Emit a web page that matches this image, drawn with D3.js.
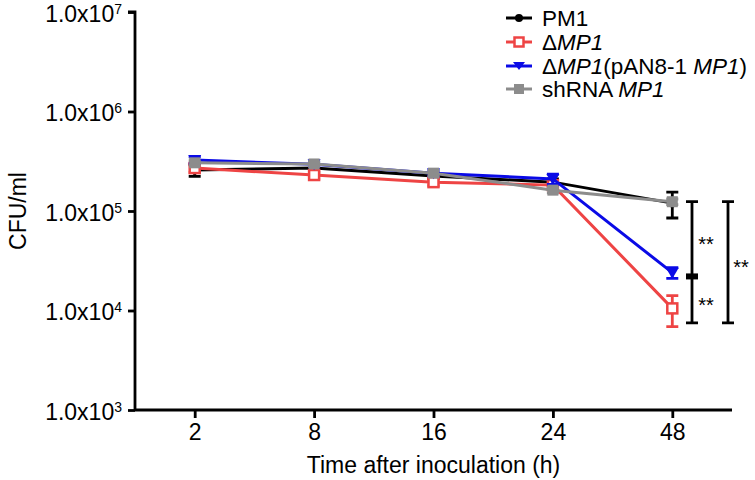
<!DOCTYPE html>
<html>
<head>
<meta charset="utf-8">
<script src="https://cdn.jsdelivr.net/npm/d3@7"></script>
<style>
body{margin:0;background:#fff;}
text{font-family:"Liberation Sans",Arial,Helvetica,sans-serif;}
</style>
</head>
<body>
<svg id="c" width="755" height="480"></svg>
<script>
const categories = ["2","8","16","24","48"];
const yTickExps = [3,4,5,6,7];
const seriesNames = ["PM1","\u0394MP1","\u0394MP1(pAN8-1 MP1)","shRNA MP1"];
const pm1 =      [2.58e5, 2.70e5, 2.25e5, 1.95e5, 1.20e5];
const pm1Err =   [0.35e5, 0.25e5, 0.15e5, 0.15e5, 0.35e5];
const dmp1 =     [2.70e5, 2.30e5, 1.95e5, 1.82e5, 1.05e4];
const dmp1Err =  [0.25e5, 0.20e5, 0.15e5, 0.12e5, 0.36e4];
const comp =     [3.25e5, 2.95e5, 2.40e5, 2.10e5, 2.40e4];
const compErr =  [0.25e5, 0.15e5, 0.15e5, 0.25e5, 0.30e4];
const shrna =    [3.05e5, 2.97e5, 2.40e5, 1.62e5, 1.24e5];
const shrnaErr = [0.15e5, 0.15e5, 0.15e5, 0.10e5, 0.08e5];
// significance brackets: [top, middle, bottom]
const sig1 = [1.24e5, 2.2e4, 7.5e3];
const sig2 = [1.24e5, 7.5e3];

const svg = d3.select("#c");
const x0 = 135, x1 = 732, yTop = 12, yBot = 410;
const x = d3.scalePoint().domain(categories).range([x0, x1]).padding(0.5);
const y = d3.scaleLog().domain([1e3, 1e7]).range([yBot, yTop]);
const FS = 23;

const colors = ["#000000", "#ee4444", "#0a0ae6", "#8c8c8c"];
const data = [
  {name: seriesNames[0], v: pm1, e: pm1Err, c: colors[0], m: "circle"},
  {name: seriesNames[1], v: dmp1, e: dmp1Err, c: colors[1], m: "opensquare"},
  {name: seriesNames[2], v: comp, e: compErr, c: colors[2], m: "triangle"},
  {name: seriesNames[3], v: shrna, e: shrnaErr, c: colors[3], m: "square"}
];

// axes
const yAxis = d3.axisLeft(y).tickValues(yTickExps.map(e => Math.pow(10, e))).tickSize(7).tickFormat("");
const gy = svg.append("g").attr("transform", `translate(${x0},0)`).call(yAxis);
gy.select(".domain").attr("d", `M-7,${yTop}H0V${yBot}`).attr("stroke-width", 2.8).attr("stroke", "#000").attr("fill","none");
gy.selectAll(".tick line").attr("stroke-width", 2.8);
gy.selectAll(".tick").each(function(d) {
  const e = Math.round(Math.log10(d));
  const t = d3.select(this).append("text").attr("x", -13).attr("y", 9).attr("text-anchor", "end")
    .attr("font-size", FS).attr("fill", "#000");
  t.append("tspan").text("1.0x10");
  t.append("tspan").attr("font-size", 14).attr("dy", -8).text(e);
});

const xAxis = d3.axisBottom(x).tickSize(8).tickPadding(6);
const gx = svg.append("g").attr("transform", `translate(0,${yBot})`).call(xAxis);
gx.select(".domain").attr("d", `M${x0},0H${x1}`).attr("stroke-width", 2.8).attr("stroke", "#000");
gx.selectAll(".tick line").attr("stroke-width", 2.8);
gx.selectAll(".tick text").attr("font-size", FS).attr("fill", "#000").attr("font-family", '"Liberation Sans",Arial,sans-serif');

svg.append("text").attr("x", (x0 + x1) / 2).attr("y", 473).attr("text-anchor", "middle")
  .attr("font-size", FS).text("Time after inoculation (h)");
svg.append("text").attr("transform", `translate(26,${(yTop + yBot) / 2}) rotate(-90)`).attr("text-anchor", "middle")
  .attr("font-size", FS).text("CFU/ml");

// series
function marker(g, m, c, cx, cy) {
  if (m === "circle") g.append("circle").attr("cx", cx).attr("cy", cy).attr("r", 4.5).attr("fill", c);
  else if (m === "square") g.append("rect").attr("x", cx - 5.5).attr("y", cy - 5.5).attr("width", 11).attr("height", 11).attr("fill", c);
  else if (m === "opensquare") g.append("rect").attr("x", cx - 5).attr("y", cy - 5).attr("width", 10).attr("height", 10).attr("fill", "#fff").attr("stroke", c).attr("stroke-width", 2.5);
  else if (m === "triangle") g.append("path").attr("d", `M${cx - 6.5},${cy - 5}L${cx + 6.5},${cy - 5}L${cx},${cy + 6}Z`).attr("fill", c);
}
const line = d3.line().x((d, i) => x(categories[i])).y(d => y(d));
data.forEach(s => {
  const g = svg.append("g");
  g.append("path").attr("d", line(s.v)).attr("fill", "none").attr("stroke", s.c).attr("stroke-width", 3);
  s.v.forEach((v, i) => {
    const cx = x(categories[i]);
    const ya = y(v + s.e[i]), yb = y(v - s.e[i]);
    g.append("path").attr("d", `M${cx},${ya}V${yb}M${cx - 6},${ya}H${cx + 6}M${cx - 6},${yb}H${cx + 6}`)
      .attr("stroke", s.c).attr("stroke-width", 2.8).attr("fill", "none");
  });
  s.v.forEach((v, i) => marker(g, s.m, s.c, x(categories[i]), y(v)));
});

// significance brackets
const sx1 = 692, sx2 = 728;
svg.append("path").attr("d", `M${sx1},${y(sig1[0])}V${y(sig1[2])}M${sx1 - 6},${y(sig1[0])}H${sx1 + 6}M${sx1 - 6},${y(sig1[2])}H${sx1 + 6}`)
  .attr("stroke", "#000").attr("stroke-width", 2.8).attr("fill", "none");
svg.append("rect").attr("x", sx1 - 6).attr("y", y(sig1[1]) - 3).attr("width", 12).attr("height", 6).attr("fill", "#000");
svg.append("path").attr("d", `M${sx2},${y(sig2[0])}V${y(sig2[1])}M${sx2 - 6},${y(sig2[0])}H${sx2 + 6}M${sx2 - 6},${y(sig2[1])}H${sx2 + 6}`)
  .attr("stroke", "#000").attr("stroke-width", 2.8).attr("fill", "none");
const starY1 = (y(sig1[0]) + y(sig1[1])) / 2, starY2 = (y(sig1[1]) + y(sig1[2])) / 2, starY3 = (y(sig2[0]) + y(sig2[1])) / 2;
[[706, starY1], [706, starY2], [741, starY3]].forEach(p => {
  svg.append("text").attr("x", p[0]).attr("y", p[1] + 12).attr("text-anchor", "middle").attr("font-size", 20).text("**");
});

// legend
const legRows = [18, 42, 66, 89];
data.forEach((s, i) => {
  const g = svg.append("g");
  const ly = legRows[i];
  g.append("path").attr("d", `M506,${ly}H532`).attr("stroke", s.c).attr("stroke-width", 3);
  if (s.m === "circle") g.append("circle").attr("cx", 519).attr("cy", ly).attr("r", 4).attr("fill", s.c);
  else if (s.m === "square") g.append("rect").attr("x", 514).attr("y", ly - 5).attr("width", 10).attr("height", 10).attr("fill", s.c);
  else if (s.m === "opensquare") g.append("rect").attr("x", 514.5).attr("y", ly - 4.5).attr("width", 9).attr("height", 9).attr("fill", "#fff").attr("stroke", s.c).attr("stroke-width", 2.5);
  else g.append("path").attr("d", `M513,${ly - 4}L525,${ly - 4}L519,${ly + 4}Z`).attr("fill", s.c);
  const t = g.append("text").attr("x", 542).attr("y", ly + 8).attr("font-size", 22.5);
  if (i === 0) t.text("PM1");
  else if (i === 1) { t.append("tspan").text("\u0394"); t.append("tspan").attr("font-style", "italic").text("MP1"); }
  else if (i === 2) { t.append("tspan").text("\u0394"); t.append("tspan").attr("font-style", "italic").text("MP1");
    t.append("tspan").text("(pAN8-1 "); t.append("tspan").attr("font-style", "italic").text("MP1"); t.append("tspan").text(")"); }
  else { t.append("tspan").text("shRNA "); t.append("tspan").attr("font-style", "italic").text("MP1"); }
});
</script>
</body>
</html>
